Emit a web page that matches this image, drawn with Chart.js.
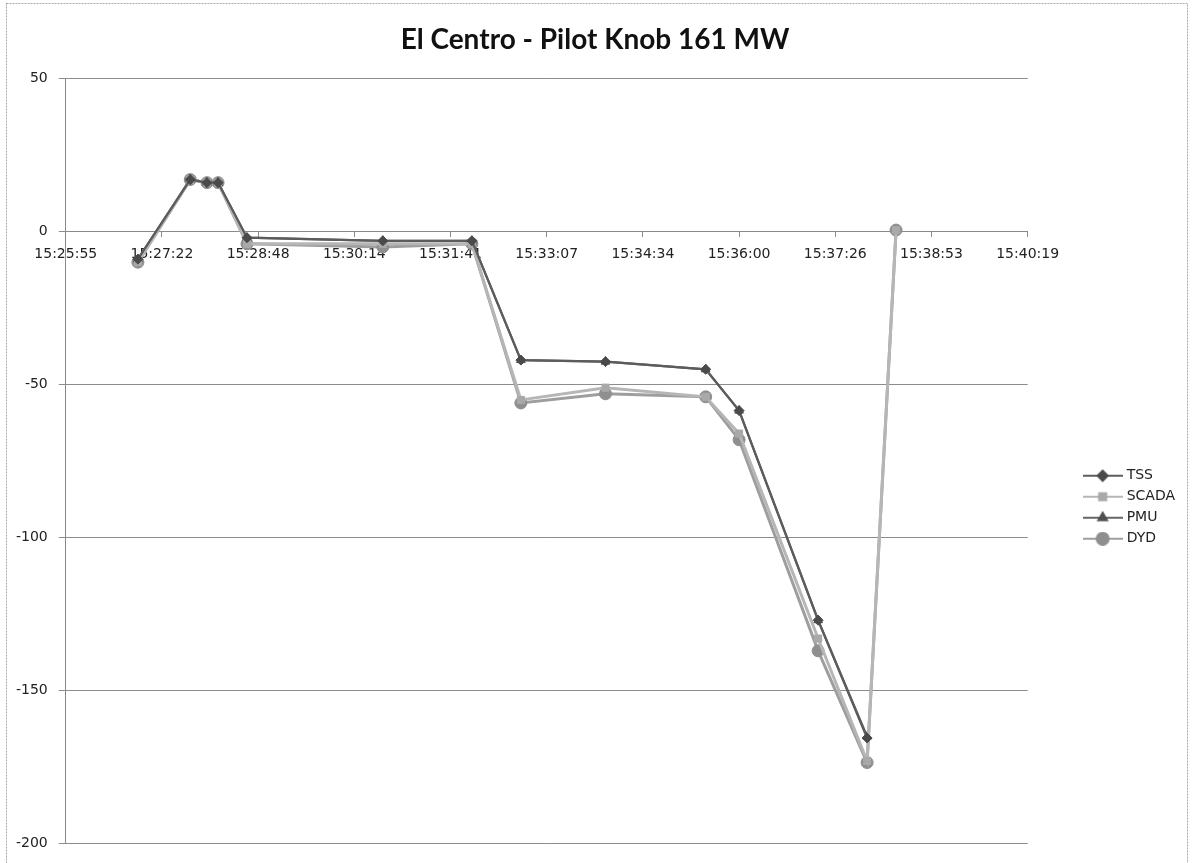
<!DOCTYPE html>
<html>
<head>
<meta charset="utf-8">
<title>El Centro - Pilot Knob 161 MW</title>
<script src="https://cdn.jsdelivr.net/npm/chart.js@4/dist/chart.umd.min.js"></script>
<style>
  html, body { margin: 0; padding: 0; background: #ffffff; }
  #wrap { width: 1193px; height: 863px; position: relative; }
</style>
</head>
<body>
<div id="wrap"><canvas id="chart"></canvas></div>
<script>
// Sample times (hh:mm:ss) and MW readings for each source
const sampleTimes = ["15:27:00", "15:27:47", "15:28:02", "15:28:12", "15:28:38", "15:30:40", "15:32:00",
                     "15:32:44", "15:34:00", "15:35:30", "15:36:00", "15:37:11", "15:37:55", "15:38:21"];
const tssMW   = [ -9, 17, 16, 16, -2, -3, -3, -42, -42.5, -45, -58.5, -127, -165.5, null];
const scadaMW = [-10, 17, 16, 16, -4, -4, -4, -55, -51, -54, -66, -133, -173, 0.5];
const pmuMW   = [ -9, 17, 16, 16, -2, -3, -3, -42, -42.5, -45, -58.5, -127, -165, null];
const dydMW   = [-10, 17, 16, 16, -4, -5, -4, -56, -53, -54, -68, -137, -173.5, 0.5];

// Time axis labels (one every 0.001 day = 86.4 s, starting at 15:25:55.2)
const xTickLabels = ["15:25:55", "15:27:22", "15:28:48", "15:30:14", "15:31:41", "15:33:07",
                     "15:34:34", "15:36:00", "15:37:26", "15:38:53", "15:40:19"];
const yTickValues = [50, 0, -50, -100, -150, -200];
const seriesNames = ["TSS", "SCADA", "PMU", "DYD"];

const AXIS_START_SEC = 15 * 3600 + 25 * 60 + 55.2;
const TICK_STEP_SEC = 86.4;
const xTickSecs = xTickLabels.map((_, i) => AXIS_START_SEC + i * TICK_STEP_SEC);

function toSeconds(t) {
  const [h, m, s] = t.split(":").map(Number);
  return h * 3600 + m * 60 + s;
}
function points(values) {
  return sampleTimes.map((t, i) => ({ x: toSeconds(t), y: values[i] }));
}

const styles = [
  { line: "#5c5c5c", marker: "#4a4a4a", shape: "rectRot",  radius: 5,   width: 2.2 },
  { line: "#b6b6b6", marker: "#a9a9a9", shape: "rect",     radius: 5,   width: 3   },
  { line: "#666666", marker: "#505050", shape: "triangle", radius: 5,   width: 2.2 },
  { line: "#9e9e9e", marker: "#8f8f8f", shape: "circle",   radius: 6,   width: 3   }
];
const seriesValues = [tssMW, scadaMW, pmuMW, dydMW];

// Legend symbol: short line with the series marker in the middle
function legendSymbol(st) {
  const c = document.createElement("canvas");
  c.width = 40; c.height = 14;
  const ctx = c.getContext("2d");
  ctx.strokeStyle = st.line;
  ctx.lineWidth = 2;
  ctx.beginPath(); ctx.moveTo(0, 7); ctx.lineTo(40, 7); ctx.stroke();
  ctx.fillStyle = st.marker;
  ctx.strokeStyle = st.marker;
  Chart.helpers.drawPoint(ctx, { pointStyle: st.shape, radius: st.radius, borderWidth: 1, rotation: 0 }, 20, 7);
  return c;
}
const legendSymbols = styles.map(legendSymbol);

const datasets = seriesNames.map((name, i) => ({
  label: name,
  data: points(seriesValues[i]),
  borderColor: styles[i].line,
  backgroundColor: styles[i].marker,
  borderWidth: styles[i].width,
  pointStyle: styles[i].shape,
  pointRadius: styles[i].radius,
  pointBackgroundColor: styles[i].marker,
  pointBorderColor: styles[i].marker,
  pointBorderWidth: 1,
  tension: 0,
  spanGaps: false
}));

// Thin frame around the chart
const framePlugin = {
  id: "frame",
  beforeDraw(chart) {
    const ctx = chart.ctx;
    ctx.save();
    ctx.strokeStyle = "#a8a8a8";
    ctx.lineWidth = 1;
    ctx.setLineDash([2, 1]);
    ctx.strokeRect(6.5, 3.5, 1181, 875);
    ctx.restore();
  }
};

const axisFont = { family: "DejaVu Sans", size: 14 };

new Chart(document.getElementById("chart"), {
  type: "line",
  data: { datasets },
  plugins: [framePlugin],
  options: {
    responsive: true,
    maintainAspectRatio: false,
    animation: false,
    layout: { padding: { left: 5, right: 8, top: 10, bottom: 18 } },
    plugins: {
      title: {
        display: true,
        text: "El Centro - Pilot Knob 161 MW",
        color: "#111111",
        font: { family: "Lato", size: 28, weight: "bold" },
        padding: { top: 13, bottom: 22 }
      },
      legend: {
        position: "right",
        align: "center",
        title: { display: true, text: "", font: { size: 12 }, padding: { top: 145, bottom: 0 } },
        labels: {
          usePointStyle: true,
          pointStyleWidth: 34,
          padding: 7,
          color: "#222222",
          font: { family: "DejaVu Sans", size: 14 },
          generateLabels(chart) {
            const items = Chart.defaults.plugins.legend.labels.generateLabels(chart);
            items.forEach((it, i) => { it.pointStyle = legendSymbols[i]; });
            return items;
          }
        }
      },
      tooltip: { enabled: false }
    },
    scales: {
      x: {
        type: "linear",
        position: { y: 0 },
        min: AXIS_START_SEC,
        max: xTickSecs[xTickSecs.length - 1],
        afterBuildTicks(scale) {
          scale.ticks = xTickSecs.map(v => ({ value: v }));
        },
        ticks: {
          autoSkip: false,
          maxRotation: 0,
          padding: 9,
          color: "#222222",
          font: axisFont,
          callback: (value, index) => xTickLabels[index]
        },
        grid: { drawOnChartArea: false, drawTicks: true, tickLength: 5, color: "#8a8a8a" },
        border: { display: true, color: "#8a8a8a", width: 1 }
      },
      y: {
        min: -200,
        max: 50,
        afterBuildTicks(scale) {
          scale.ticks = yTickValues.map(v => ({ value: v }));
        },
        ticks: { padding: 11, color: "#222222", font: axisFont },
        grid: { color: "#8c8c8c", lineWidth: 1, tickLength: 7 },
        border: { display: true, color: "#8a8a8a", width: 1 }
      },
      gap: {
        type: "linear",
        position: "right",
        display: true,
        ticks: { display: false },
        grid: { display: false, drawTicks: false },
        border: { display: false },
        afterFit(scale) { scale.width = 51; }
      }
    }
  }
});
</script>
</body>
</html>
